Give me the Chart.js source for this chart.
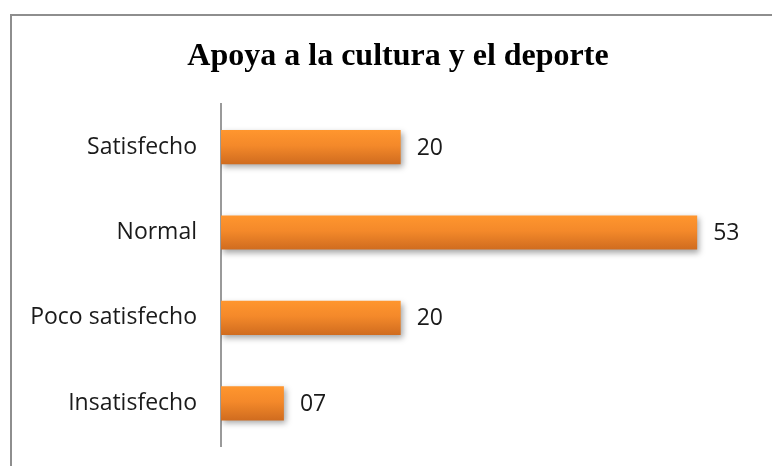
<!DOCTYPE html>
<html>
<head>
<meta charset="utf-8">
<script src="https://cdn.jsdelivr.net/npm/chart.js@4.4.1/dist/chart.umd.min.js"></script>
<style>
  html, body { margin: 0; padding: 0; background: #fff; overflow: hidden; }
  #wrap { position: relative; width: 772px; height: 466px; overflow: hidden; background: #fff; }
  #frame { position: absolute; left: 10px; top: 14px; width: 800px; height: 500px; border: 2px solid #8e8e8e; box-sizing: border-box; }
  #c { position: absolute; left: 0; top: 0; }
</style>
</head>
<body>
<div id="wrap">
  <div id="frame"></div>
  <canvas id="c" width="796" height="466"></canvas>
</div>
<script>
const titleText = 'Apoya a la cultura y el deporte';
const categories = ['Satisfecho', 'Normal', 'Poco satisfecho', 'Insatisfecho'];
const values = [20, 53, 20, 7];
const valueLabels = ['20', '53', '20', '07'];

const tickFont = { family: "'Open Sans', 'Liberation Sans', sans-serif", size: 23 };

function barGradient(ctx) {
  const chart = ctx.chart;
  const yScale = chart.scales && chart.scales.y;
  if (!yScale || ctx.dataIndex === undefined) return '#f08a2c';
  const yc = yScale.getPixelForValue(ctx.dataIndex);
  if (!isFinite(yc)) return '#f08a2c';
  const g = chart.ctx.createLinearGradient(0, yc - 17, 0, yc + 17);
  g.addColorStop(0, '#ff962e');
  g.addColorStop(0.45, '#f4892a');
  g.addColorStop(1, '#d06c1f');
  return g;
}

const shadowPlugin = {
  id: 'barShadow',
  beforeDatasetDraw(chart) {
    const c = chart.ctx;
    c.save();
    c.shadowColor = 'rgba(0,0,0,0.35)';
    c.shadowBlur = 6;
    c.shadowOffsetX = 2;
    c.shadowOffsetY = 3;
  },
  afterDatasetDraw(chart) {
    chart.ctx.restore();
  }
};

const valueLabelPlugin = {
  id: 'valueLabels',
  afterDatasetsDraw(chart) {
    const c = chart.ctx;
    const meta = chart.getDatasetMeta(0);
    c.save();
    c.font = tickFont.size + 'px ' + tickFont.family;
    c.fillStyle = '#1a1a1a';
    c.textAlign = 'left';
    c.textBaseline = 'middle';
    meta.data.forEach((bar, i) => {
      c.fillText(valueLabels[i], bar.x + 16, bar.y + 1);
    });
    c.restore();
  }
};

const chart = new Chart(document.getElementById('c'), {
  type: 'bar',
  data: {
    labels: categories,
    datasets: [{
      data: values,
      backgroundColor: barGradient,
      borderWidth: 0,
      barPercentage: 0.4,
      categoryPercentage: 1.0
    }]
  },
  options: {
    indexAxis: 'y',
    responsive: false,
    animation: false,
    events: [],
    layout: { padding: { top: 0, right: 0, bottom: 20, left: 0 } },
    plugins: {
      legend: { display: false },
      tooltip: { enabled: false },
      title: {
        display: true,
        text: titleText,
        color: '#000',
        font: { family: "'Liberation Serif', 'Times New Roman', serif", size: 32, weight: 'bold', lineHeight: 1.2 },
        padding: { top: 38, bottom: 28 }
      }
    },
    scales: {
      x: {
        display: false,
        min: 0,
        max: 64
      },
      y: {
        afterFit(scale) {
          scale.width = 221;
          scale.paddingTop = 0;
          scale.paddingBottom = 0;
        },
        grid: { display: false, drawTicks: false },
        border: { display: true, color: '#9a9a9a', width: 2 },
        ticks: { color: '#1a1a1a', font: tickFont, padding: 24 }
      }
    }
  },
  plugins: [shadowPlugin, valueLabelPlugin]
});
chart.update();
</script>
</body>
</html>
